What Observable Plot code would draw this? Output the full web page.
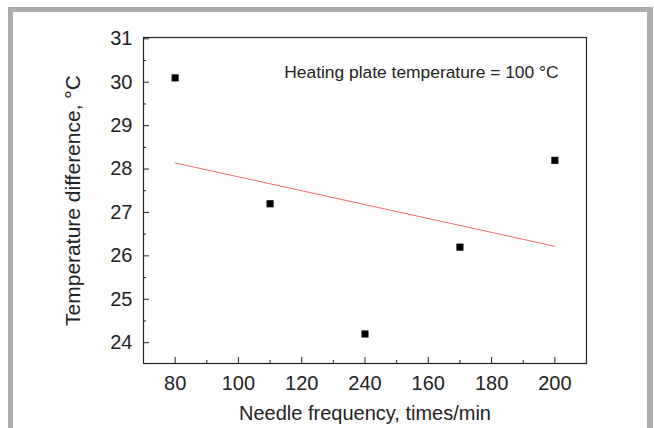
<!DOCTYPE html>
<html>
<head>
<meta charset="utf-8">
<script src="https://cdn.jsdelivr.net/npm/d3@7"></script>
<script src="https://cdn.jsdelivr.net/npm/@observablehq/plot@0.6"></script>
<style>
  html, body { margin: 0; padding: 0; background: #ffffff; }
  #wrap { position: relative; width: 654px; height: 428px; overflow: hidden; }
  #border { position: absolute; left: 8px; top: 7px; width: 634px; height: 440px;
            border: 5px solid #adadad; border-right-width: 6px; border-bottom: none; }
  #chart { position: absolute; left: 0; top: 0; }
  svg text { font-family: "Liberation Sans", Arial, sans-serif; }
  svg g[aria-label="x-axis label"] text { font-size: 20px; }
  svg g[aria-label="y-axis label"] text { font-size: 21px; }
</style>
</head>
<body>
<div id="wrap"><div id="border"></div><div id="chart"></div></div>
<script>
// Data
const frequency = [80, 110, 140, 170, 200];
const tempDiff = [30.1, 27.2, 24.2, 26.2, 28.2];
const xTicks = [80, 100, 120, 140, 160, 180, 200];
const xTickLabels = ["80", "100", "120", "240", "160", "180", "200"];
const xMinorTicks = [90, 110, 130, 150, 170, 190];
const yTicks = [24, 25, 26, 27, 28, 29, 30, 31];
const yMinorTicks = [24.5, 25.5, 26.5, 27.5, 28.5, 29.5, 30.5];
const annotation = ["Heating plate temperature = 100 °C"];

const data = frequency.map((f, i) => ({f, t: tempDiff[i]}));
const labelOf = new Map(xTicks.map((v, i) => [v, xTickLabels[i]]));

const W = 654, H = 428, ML = 143, MR = 68, MT = 37, MB = 65;
const plotW = W - ML - MR, plotH = H - MT - MB;
const major = 6, minor = 3;

const chart = Plot.plot({
  width: W,
  height: H,
  marginLeft: ML,
  marginRight: MR,
  marginTop: MT,
  marginBottom: MB,
  style: {background: "transparent", color: "#222", fontSize: "20px", fontFamily: "Liberation Sans, Arial, sans-serif"},
  x: {domain: [70, 210]},
  y: {domain: [23.52, 31.03]},
  marks: [
    Plot.axisX(xTicks, {tickSize: 0, tickPadding: 12, tickFormat: d => labelOf.get(d), fontSize: 20,
      label: "Needle frequency, times/min", labelAnchor: "center", labelArrow: "none", labelOffset: 56}),
    Plot.axisY(yTicks, {tickSize: 0, tickPadding: 11, fontSize: 20,
      label: "Temperature difference, °C", labelAnchor: "center", labelArrow: "none", labelOffset: 78}),
    // inward ticks
    Plot.tickX(xTicks, {x: d => d, insetTop: plotH - major, stroke: "#222"}),
    Plot.tickX(xMinorTicks, {x: d => d, insetTop: plotH - minor, stroke: "#222"}),
    Plot.tickY(yTicks, {y: d => d, insetRight: plotW - major, stroke: "#222"}),
    Plot.tickY(yMinorTicks, {y: d => d, insetRight: plotW - minor, stroke: "#222"}),
    Plot.frame({stroke: "#222", strokeWidth: 1.2}),
    Plot.linearRegressionY(data, {x: "f", y: "t", stroke: "#f26b6b", strokeWidth: 1, ci: 0}),
    Plot.dot(data, {x: "f", y: "t", symbol: "square", r: 4, fill: "#000", stroke: "none"}),
    Plot.text(annotation, {text: d => d, frameAnchor: "top-right", textAnchor: "end", lineAnchor: "top",
      dx: -28, dy: 28, fontSize: 17.4, fill: "#222"})
  ]
});
document.getElementById("chart").appendChild(chart);
</script>
</body>
</html>
